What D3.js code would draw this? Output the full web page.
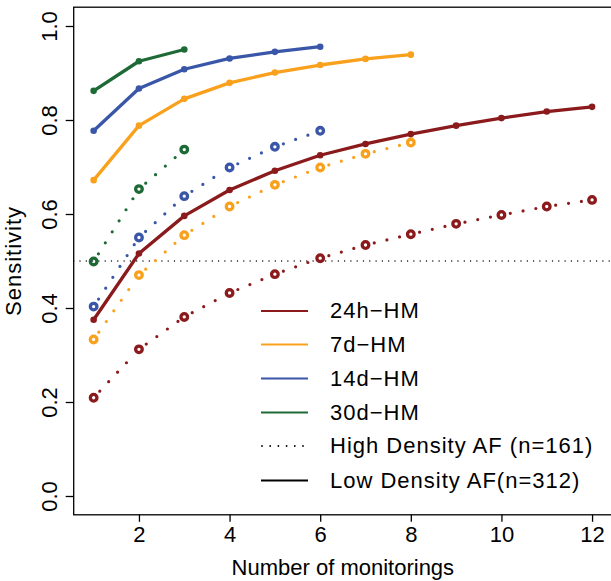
<!DOCTYPE html>
<html>
<head>
<meta charset="utf-8">
<script src="https://cdn.jsdelivr.net/npm/d3@7"></script>
<style>
  html, body { margin: 0; padding: 0; background: #fff; }
  svg { display: block; font-family: "Liberation Sans", Arial, Helvetica, sans-serif; }
</style>
</head>
<body>
<svg id="chart" width="611" height="581"></svg>
<script>
// Sensitivity by number of monitorings
const seriesNames = ['24h\u2212HM', '7d\u2212HM', '14d\u2212HM', '30d\u2212HM'];
const seriesColors = ['#8b1a1c', '#f9a11c', '#3a56a8', '#1e6a36'];

const lowDensity24h = [0.375, 0.516, 0.596, 0.651, 0.692, 0.725, 0.749, 0.770, 0.788, 0.804, 0.818, 0.828];
const lowDensity7d = [0.672, 0.788, 0.845, 0.879, 0.901, 0.917, 0.930, 0.939];
const lowDensity14d = [0.777, 0.867, 0.908, 0.931, 0.945, 0.956];
const lowDensity30d = [0.862, 0.925, 0.950];

const highDensity24h = [0.209, 0.312, 0.381, 0.432, 0.472, 0.506, 0.534, 0.557, 0.579, 0.598, 0.616, 0.630];
const highDensity7d = [0.333, 0.470, 0.555, 0.616, 0.662, 0.699, 0.728, 0.752];
const highDensity14d = [0.403, 0.550, 0.638, 0.699, 0.743, 0.777];
const highDensity30d = [0.499, 0.653, 0.737];

const xTicks = [2, 4, 6, 8, 10, 12];
const yTicks = [0, 0.2, 0.4, 0.6, 0.8, 1.0];
const threshold = 0.5;
const legendLabels = [...seriesNames, 'High Density AF (n=161)', 'Low Density AF(n=312)'];

(function () {
  const lowSeries = [lowDensity24h, lowDensity7d, lowDensity14d, lowDensity30d];
  const highSeries = [highDensity24h, highDensity7d, highDensity14d, highDensity30d];

  const svg = d3.select('#chart');
  const plotL = 73.7, plotR = 612, plotT = 7.2, plotB = 514.8;

  // R style 4% padding around the data range
  const x = d3.scaleLinear().domain([0.56, 12.44]).range([plotL, plotR]);
  const y = d3.scaleLinear().domain([-0.04, 1.04]).range([plotB, plotT]);

  const pts = vals => vals.map((v, i) => [x(i + 1), y(v)]);

  // plot box
  svg.append('rect')
    .attr('x', plotL).attr('y', plotT)
    .attr('width', plotR - plotL).attr('height', plotB - plotT)
    .attr('fill', 'none').attr('stroke', '#000').attr('stroke-width', 1.3);

  // axes
  const xAxis = svg.append('g')
    .attr('transform', `translate(0,${plotB})`)
    .call(d3.axisBottom(x).tickValues(xTicks).tickSize(7).tickPadding(5).tickFormat(d3.format('d')));
  xAxis.select('.domain').remove();
  xAxis.attr('font-family', null);
  xAxis.selectAll('line').attr('stroke-width', 1.3);
  xAxis.selectAll('text').attr('font-size', 22).attr('fill', '#000');

  const yAxis = svg.append('g')
    .attr('transform', `translate(${plotL},0)`)
    .call(d3.axisLeft(y).tickValues(yTicks).tickSize(8).tickFormat(d3.format('.1f')));
  yAxis.select('.domain').remove();
  yAxis.attr('font-family', null);
  yAxis.selectAll('line').attr('stroke-width', 1.3);
  yAxis.selectAll('text')
    .attr('font-size', 22).attr('fill', '#000')
    .attr('x', null).attr('dy', null)
    .attr('text-anchor', 'middle')
    .attr('transform', 'translate(-17,0) rotate(-90)');

  svg.append('text')
    .attr('x', (plotL + plotR) / 2).attr('y', 575)
    .attr('text-anchor', 'middle').attr('font-size', 22)
    .text('Number of monitorings');

  svg.append('text')
    .attr('transform', `translate(21,${(plotT + plotB) / 2}) rotate(-90)`)
    .attr('text-anchor', 'middle').attr('font-size', 22)
    .attr('letter-spacing', 1)
    .text('Sensitivity');

  // threshold line
  svg.append('line')
    .attr('x1', plotL).attr('x2', plotR)
    .attr('y1', y(threshold)).attr('y2', y(threshold))
    .attr('stroke', '#000').attr('stroke-width', 1.4)
    .attr('stroke-linecap', 'round')
    .attr('stroke-dasharray', '0 6.3');

  // high density: dotted segments with gaps around open circles
  highSeries.forEach((vals, s) => {
    const g = svg.append('g');
    const p = pts(vals);
    for (let i = 0; i < p.length - 1; i++) {
      const [x0, y0] = p[i], [x1, y1] = p[i + 1];
      const len = Math.hypot(x1 - x0, y1 - y0);
      const ux = (x1 - x0) / len, uy = (y1 - y0) / len;
      const g0 = 9, g1 = 6;
      g.append('line')
        .attr('x1', x0 + ux * g0).attr('y1', y0 + uy * g0)
        .attr('x2', x1 - ux * g1).attr('y2', y1 - uy * g1)
        .attr('stroke', seriesColors[s]).attr('stroke-width', 3.2)
        .attr('stroke-linecap', 'round')
        .attr('stroke-dasharray', '0 13');
    }
    g.selectAll('circle').data(p).join('circle')
      .attr('cx', d => d[0]).attr('cy', d => d[1]).attr('r', 3.3)
      .attr('fill', 'none').attr('stroke', seriesColors[s]).attr('stroke-width', 3.3);
  });

  // low density: solid lines with small dots
  const line = d3.line();
  lowSeries.forEach((vals, s) => {
    const p = pts(vals);
    svg.append('path')
      .attr('d', line(p))
      .attr('fill', 'none').attr('stroke', seriesColors[s])
      .attr('stroke-width', 3.3).attr('stroke-linejoin', 'round');
    svg.append('g').selectAll('circle').data(p).join('circle')
      .attr('cx', d => d[0]).attr('cy', d => d[1]).attr('r', 3.3)
      .attr('fill', seriesColors[s]);
  });

  // legend
  const legendY = [311, 344.5, 378.5, 412.5, 446, 480.5];
  const legend = svg.append('g');
  legendLabels.forEach((label, i) => {
    const row = legend.append('g').attr('transform', `translate(0,${legendY[i]})`);
    const ln = row.append('line').attr('x1', 261).attr('x2', 308).attr('y1', 0).attr('y2', 0)
      .attr('stroke-width', 2.2)
      .attr('stroke', i < 4 ? seriesColors[i] : '#000');
    if (i === 4) ln.attr('stroke-dasharray', '0 8.2').attr('stroke-linecap', 'round').attr('stroke-width', 1.8)
      .attr('x1', 262);
    row.append('text').attr('x', 330).attr('dy', '0.33em')
      .attr('font-size', 22).attr('letter-spacing', 1)
      .text(label);
  });
})();
</script>
</body>
</html>
